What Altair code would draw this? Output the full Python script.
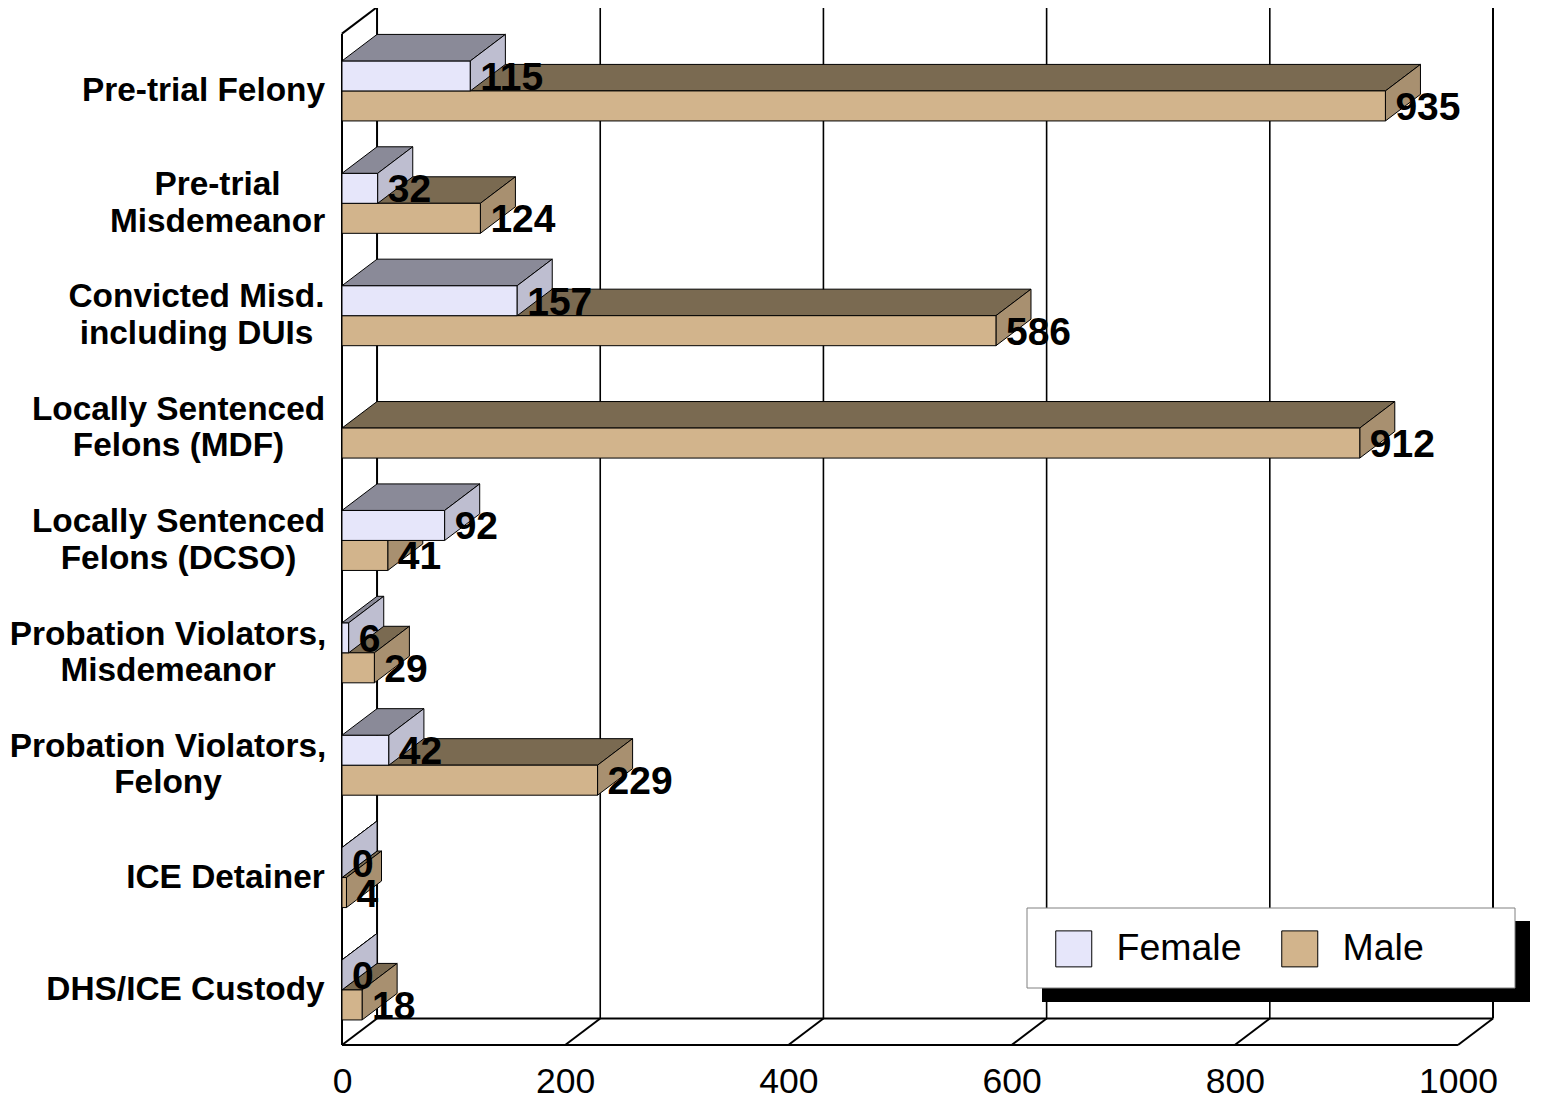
import altair as alt
import pandas as pd

# ---------------- data ----------------
categories = [
    "Pre-trial Felony",
    "Pre-trial\nMisdemeanor",
    "Convicted Misd.\nincluding DUIs",
    "Locally Sentenced\nFelons (MDF)",
    "Locally Sentenced\nFelons (DCSO)",
    "Probation Violators,\nMisdemeanor",
    "Probation Violators,\nFelony",
    "ICE Detainer",
    "DHS/ICE Custody",
]
female = [115, 32, 157, None, 92, 6, 42, 0, 0]
male = [935, 124, 586, 912, 41, 29, 229, 4, 18]
series = ["Female", "Male"]
x_ticks = [0, 200, 400, 600, 800, 1000]

# ---------------- style / layout ----------------
FONT = "Liberation Sans"
front_colors = ["#E6E6FA", "#D2B48C"]
top_colors = {"Female": "#8A8A98", "Male": "#7A6A51"}
side_colors = {"Female": "#BEBED0", "Male": "#A89070"}
DEPTH_X = 31.4      # 3-D depth along x (data units)
DEPTH_Y = 0.236     # 3-D depth along y (row units)
BAR_H = 0.267       # bar thickness (row units)
ROW_BASE = 0.49
N = len(categories)
X_END = x_ticks[-1]
W, H = 1151, 1037
ROW_PX = 112.375
X_DOMAIN = [0, X_END + DEPTH_X]
Y_DOMAIN = [0, H / ROW_PX]
WALL_TOP = float(N)
LABEL_LH = 36.5
# horizontal centre (px from plot left) of each category label block
label_center_px = [-138.5, -124.5, -145.5, -163.5, -163.5, -174.0, -174.0, -116.5, -156.5]

xs = alt.Scale(domain=X_DOMAIN, nice=False, zero=False)
ys = alt.Scale(domain=Y_DOMAIN, nice=False, zero=False)
x_axis = alt.Axis(values=x_ticks, format="d", labelFontSize=35.5, labelFont=FONT,
                  labelColor="black", domain=False, ticks=False, grid=False,
                  labelPadding=19, title=None, labelFlush=False, labelOverlap=False)

# ---------------- geometry tables ----------------
fronts, tops, sides, cat_labels = [], [], [], []
for k, cat in enumerate(categories):
    c = (N - 1 - k) + ROW_BASE
    nlines = cat.count("\n") + 1
    cat_labels.append(dict(text=cat, y=c + (nlines - 1) * LABEL_LH / 2 / ROW_PX,
                           lx=label_center_px[k]))
    for s, vals in (("Female", female), ("Male", male)):
        v = vals[k]
        if v is None:
            continue
        y0, y1 = (c, c + BAR_H) if s == "Female" else (c - BAR_H, c)
        bid = f"{k}-{s}"
        fronts.append(dict(sex=s, x0=0, x1=v, y0=y0, y1=y1, ym=(y0 + y1) / 2, value=v))
        tops.append(dict(id=bid, sex=s, y=y1, xa=0, xb=v))
        tops.append(dict(id=bid, sex=s, y=y1 + DEPTH_Y, xa=DEPTH_X, xb=v + DEPTH_X))
        sides.append(dict(id=bid, sex=s, x=v, ya=y0, yb=y1))
        sides.append(dict(id=bid, sex=s, x=v + DEPTH_X, ya=y0 + DEPTH_Y, yb=y1 + DEPTH_Y))

fronts = pd.DataFrame(fronts)
tops = pd.DataFrame(tops)
sides = pd.DataFrame(sides)
cat_labels = pd.DataFrame(cat_labels)

# walls / floor segments
seg = []
bt = WALL_TOP + DEPTH_Y
seg += [
    dict(x1=DEPTH_X, y1=bt, x2=X_END + DEPTH_X, y2=bt),                 # back top
    dict(x1=X_END + DEPTH_X, y1=DEPTH_Y, x2=X_END + DEPTH_X, y2=bt),     # back right
    dict(x1=DEPTH_X, y1=DEPTH_Y, x2=DEPTH_X, y2=bt),                     # back left
    dict(x1=DEPTH_X, y1=DEPTH_Y, x2=X_END + DEPTH_X, y2=DEPTH_Y),        # back floor
    dict(x1=0, y1=0, x2=0, y2=WALL_TOP),                                 # front left
    dict(x1=0, y1=WALL_TOP, x2=DEPTH_X, y2=bt),                          # left wall top
    dict(x1=0, y1=0, x2=DEPTH_X, y2=DEPTH_Y),                            # left wall bottom
    dict(x1=0, y1=0, x2=X_END, y2=0),                                    # floor front
]
for t in x_ticks[1:]:
    seg.append(dict(x1=t, y1=0, x2=t + DEPTH_X, y2=DEPTH_Y))
seg = pd.DataFrame(seg)
grid = pd.DataFrame([dict(x1=t + DEPTH_X, y1=DEPTH_Y, x2=t + DEPTH_X, y2=bt) for t in x_ticks[1:-1]])

# ---------------- layers ----------------
def rules(df, w):
    return alt.Chart(df).mark_rule(color="black", strokeWidth=w).encode(
        x=alt.X("x1:Q", scale=xs, axis=x_axis), y=alt.Y("y1:Q", scale=ys, axis=None),
        x2="x2:Q", y2="y2:Q")

def top_layer(s):
    d = tops[tops.sex == s]
    return alt.Chart(d).mark_area(orient="horizontal", fill=top_colors[s], stroke="black",
                                  strokeWidth=1, opacity=1).encode(
        y=alt.Y("y:Q", scale=ys, axis=None),
        x=alt.X("xa:Q", scale=xs, axis=x_axis, stack=None), x2="xb:Q",
        detail="id:N")

def side_layer(s):
    d = sides[sides.sex == s]
    return alt.Chart(d).mark_area(orient="vertical", fill=side_colors[s], stroke="black",
                                  strokeWidth=1, opacity=1).encode(
        x=alt.X("x:Q", scale=xs, axis=x_axis),
        y=alt.Y("ya:Q", scale=ys, axis=None, stack=None), y2="yb:Q",
        detail="id:N")

color_enc = alt.Color("sex:N", scale=alt.Scale(domain=series, range=front_colors),
                      legend=alt.Legend(title=None, orient="none", legendX=713, legendY=922,
                                        direction="horizontal", symbolType="square",
                                        symbolSize=1296, symbolStrokeColor="black",
                                        symbolStrokeWidth=1, labelFont=FONT,
                                        labelFontSize=37.5, labelColor="black",
                                        labelOffset=24, columnPadding=37, padding=0,
                                        zindex=2))

def front_layer(s):
    d = fronts[fronts.sex == s]
    return alt.Chart(d).mark_rect(stroke="black", strokeWidth=1, opacity=1).encode(
        x=alt.X("x0:Q", scale=xs, axis=x_axis), x2="x1:Q",
        y=alt.Y("y0:Q", scale=ys, axis=None), y2="y1:Q",
        color=color_enc)

value_text = alt.Chart(fronts).mark_text(align="left", baseline="middle", dx=10, dy=2,
                                         font=FONT, fontSize=39, fontWeight="bold",
                                         color="black").encode(
    x=alt.X("x1:Q", scale=xs, axis=x_axis), y=alt.Y("ym:Q", scale=ys, axis=None),
    text="value:Q")

cat_text = alt.Chart(cat_labels).mark_text(align="center", baseline="middle", lineBreak="\n",
                                           lineHeight=LABEL_LH, font=FONT, fontSize=33.4,
                                           fontWeight="bold", color="black").encode(
    x=alt.X("lx:Q", scale=None), y=alt.Y("y:Q", scale=ys, axis=None), text="text:N")

box = pd.DataFrame([dict(k="box")])
shadow = alt.Chart(box).mark_rect(fill="black").encode(
    x=alt.value(700), x2=alt.value(1188), y=alt.value(913), y2=alt.value(994))
legend_box = alt.Chart(box).mark_rect(fill="white", stroke="#808080", strokeWidth=1).encode(
    x=alt.value(685), x2=alt.value(1173), y=alt.value(900), y2=alt.value(980))

chart = alt.layer(
    rules(seg, 2), rules(grid, 1.6),
    top_layer("Male"), side_layer("Male"), front_layer("Male"),
    front_layer("Female"), top_layer("Female"), side_layer("Female"),
    value_text, cat_text, shadow, legend_box,
).properties(
    width=W, height=H,
    autosize=alt.AutoSizeParams(type="none"),
    padding={"left": 334, "top": 0, "right": 38, "bottom": 54},
    background="white",
).configure_view(stroke=None)

chart.save("out.html", embed_options={"renderer": "svg", "actions": False})
